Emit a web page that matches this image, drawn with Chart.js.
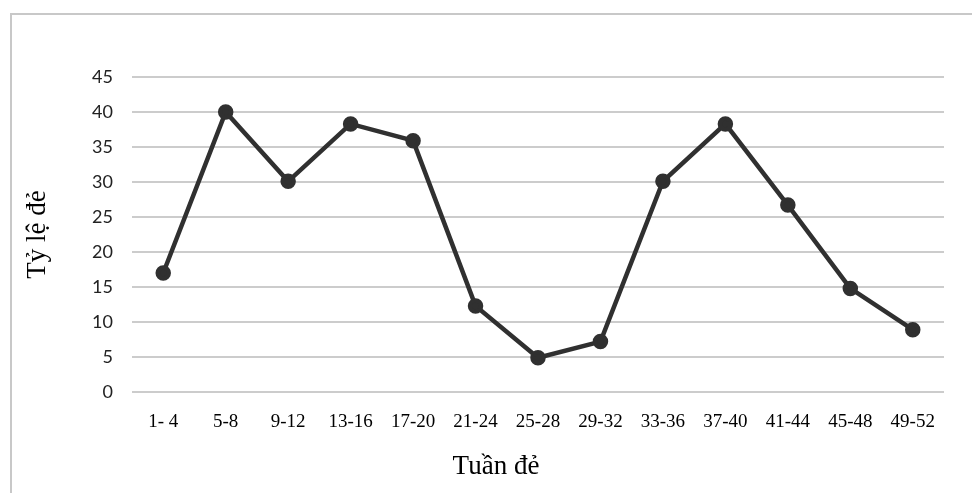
<!DOCTYPE html>
<html>
<head>
<meta charset="utf-8">
<script src="https://cdn.jsdelivr.net/npm/chart.js@4/dist/chart.umd.min.js"></script>
<style>
html,body{margin:0;padding:0;background:#fff;}
#wrap{width:972px;height:493px;position:relative;}
</style>
</head>
<body>
<div id="wrap"><canvas id="c" width="972" height="493"></canvas></div>
<script>
const categories = ["1- 4","5-8","9-12","13-16","17-20","21-24","25-28","29-32","33-36","37-40","41-44","45-48","49-52"];
const values = [17, 40, 30.1, 38.3, 35.9, 12.3, 4.9, 7.2, 30.1, 38.3, 26.7, 14.8, 8.9];
const yTicks = [0, 5, 10, 15, 20, 25, 30, 35, 40, 45];
const xTitle = "Tuần đẻ";
const yTitle = "Tỷ lệ đẻ";

const borderPlugin = {
  id: 'outerBorder',
  beforeDraw(chart) {
    const ctx = chart.ctx;
    ctx.save();
    ctx.fillStyle = '#fff';
    ctx.fillRect(0, 0, chart.width, chart.height);
    ctx.strokeStyle = '#c8c8c8';
    ctx.lineWidth = 2;
    ctx.strokeRect(11, 14, 1000, 600);
    ctx.restore();
  },
  afterDraw(chart) {
    const ctx = chart.ctx;
    ctx.save();
    ctx.fillStyle = '#000';
    ctx.font = '27px "Liberation Serif"';
    ctx.textAlign = 'center';
    ctx.textBaseline = 'middle';
    ctx.fillText(xTitle, 496, 467);
    ctx.restore();
  }
};

new Chart(document.getElementById('c'), {
  type: 'line',
  data: {
    labels: categories,
    datasets: [{
      data: values,
      borderColor: '#303030',
      backgroundColor: '#303030',
      borderWidth: 4.5,
      pointRadius: 5.5,
      pointHoverRadius: 5.5,
      pointBackgroundColor: '#303030',
      pointBorderColor: '#303030',
      tension: 0
    }]
  },
  options: {
    responsive: false,
    animation: false,
    events: [],
    layout: { padding: { top: 77, right: 28, left: 0, bottom: 0 } },
    plugins: { legend: { display: false }, tooltip: { enabled: false } },
    scales: {
      x: {
        offset: true,
        afterFit(scale) { scale.height = 101; },
        grid: { display: false, drawTicks: false },
        border: { display: false },
        ticks: { color: '#000', padding: 19, maxRotation: 0, font: { family: 'Liberation Serif', size: 19 } },
        title: { display: false }
      },
      y: {
        min: 0,
        max: 45,
        afterFit(scale) { scale.width = 132; },
        afterBuildTicks(scale) { scale.ticks = yTicks.map(v => ({ value: v })); },
        grid: { color: '#cccccc', lineWidth: 2, drawTicks: false },
        border: { display: false },
        ticks: { color: '#222', padding: 19, font: { family: 'Lato', size: 18 } },
        title: { display: true, text: yTitle, color: '#000', padding: { top: 22, bottom: 0 }, font: { family: 'Liberation Serif', size: 27 } }
      }
    }
  },
  plugins: [borderPlugin]
});
</script>
</body>
</html>
